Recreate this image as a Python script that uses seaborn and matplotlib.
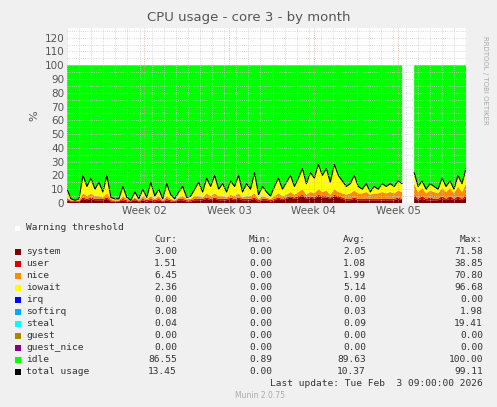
import numpy as np
import matplotlib.pyplot as plt
import seaborn as sns

nan = np.nan
# one sample every ~0.37 day over the month, gap near week 5
total = [10,3,2,3, 20,12,18,10,15, 8,20,4,3, 3,12,4,2,8,3,10,4,
         15,5,10,3,14,6,3,8,12,4,
         5,10,15,8,18,12,20,10,14,8,
         16,12,20,8,14,10,22,6,12,8,
         5,12,18,10,15,20,12,18,25,14,
         22,18,28,20,25,15,28,20,16,12,
         14,20,12,10,14,8,12,10,14,12,
         14,12,16,14, nan,nan,
         22,12,16,10,14,12,10,18,12,16,10,20,14,25]
system = [2,1,1,1, 3,2,3,2,2, 2,3,1,1, 1,2,1,1,2,1,2,1,
          2,1,2,1,2,1,1,2,2,1,
          1,2,2,2,3,2,3,2,2,2,
          3,2,3,2,2,2,3,1,2,2,
          1,2,3,2,3,4,3,4,5,3,
          4,3,5,4,4,3,5,4,3,2,
          2,3,2,2,2,2,2,2,2,2,
          2,2,3,2, nan,nan,
          4,2,3,2,2,2,2,3,2,3,2,3,2,4]
user = [1,0.5,0.5,0.5, 1,1,1,1,1, 1,1,1,0.5, 0.5,1,1,0.5,1,0.5,1,1,
        1,1,1,0.5,1,1,0.5,1,1,1,
        1,1,1,1,1,1,1,1,1,1,
        1,1,1,1,1,1,1,1,1,1,
        1,1,1,1,1,1,1,1,1,1,
        1,1,1,1,1,1,1,1,1,1,
        1,1,1,1,1,1,1,1,1,1,
        1,1,1,1, nan,nan,
        2,1,2,1,2,1,1,2,1,2,1,2,1,2]
nice = [1,0.5,0.5,0.5, 3,2,3,2,2, 1,3,1,0.5, 0.5,2,1,0.5,1,0.5,2,1,
        2,1,2,0.5,2,1,0.5,1,2,1,
        1,2,2,1,3,2,3,2,2,1,
        2,2,3,1,2,2,3,1,2,1,
        1,2,3,2,2,3,2,3,4,2,
        3,3,4,3,4,2,4,3,3,3,
        4,5,4,4,5,3,4,4,5,4,
        5,4,5,5, nan,nan,
        8,5,6,4,5,5,4,6,5,6,4,7,5,8]

week_ticks = [6.4, 13.4, 20.4, 27.4]
week_labels = ['Week 02', 'Week 03', 'Week 04', 'Week 05']

legend_rows = [
    ('system', '#7f0000', '3.00', '0.00', '2.05', '71.58'),
    ('user', '#e00000', '1.51', '0.00', '1.08', '38.85'),
    ('nice', '#ff8c00', '6.45', '0.00', '1.99', '70.80'),
    ('iowait', '#ffff00', '2.36', '0.00', '5.14', '96.68'),
    ('irq', '#0000ff', '0.00', '0.00', '0.00', '0.00'),
    ('softirq', '#00aaff', '0.08', '0.00', '0.03', '1.98'),
    ('steal', '#00ffff', '0.04', '0.00', '0.09', '19.41'),
    ('guest', '#aa8800', '0.00', '0.00', '0.00', '0.00'),
    ('guest_nice', '#880088', '0.00', '0.00', '0.00', '0.00'),
    ('idle', '#00ff00', '86.55', '0.89', '89.63', '100.00'),
    ('total usage', '#000000', '13.45', '0.00', '10.37', '99.11'),
]

total = np.array(total); system = np.array(system)
user = np.array(user); nice = np.array(nice)
iowait = np.clip(total - system - user - nice, 0, None)
idle = 100 - total
x = np.linspace(0, 33, len(total))

sns.set_style('white')
plt.rcParams['font.family'] = ['DejaVu Sans']
fig = plt.figure(figsize=(4.97, 4.07), dpi=100, facecolor='#f0f0f0')
ax = fig.add_axes([67/497, 1-203/407, (466-67)/497, (203-28)/407])
ax.set_facecolor('white')

layers = [system, user, nice, iowait, idle]
cols = ['#7f0000', '#e00000', '#ff8c00', '#ffff00', '#00ff00']
base = np.zeros(len(x))
for v, c in zip(layers, cols):
    ax.fill_between(x, base, base + v, color=c, lw=0)
    base = base + v
# plain plot so the line breaks at the gap
ax.plot(x, total, color='black', lw=0.8)

ax.set_xlim(0, 33)
ax.set_ylim(0, 127)
ax.set_yticks(range(0, 121, 10))
ax.set_xticks(week_ticks)
ax.set_xticklabels(week_labels)
ax.set_xticks(np.arange(0, 33, 1), minor=True)
ax.set_yticks(range(0, 126, 5), minor=True)
ax.grid(True, which='both', color='#cccccc', ls=':', lw=0.6)
ax.grid(True, which='major', axis='x', color='#e0a0a0', ls=':', lw=0.6)
ax.tick_params(labelsize=7.5, colors='#555555', length=0, pad=2)
for s in ax.spines.values():
    s.set_visible(False)
ax.set_axisbelow(False)
ax.set_ylabel('%', fontsize=8, color='#555555')

fig.text(0.5, 1-18/407, 'CPU usage - core 3 - by month', ha='center', va='center',
         fontsize=9.5, color='#555555')
fig.text(0.975, 1-80/407, 'RRDTOOL / TOBI OETIKER', rotation=270, ha='center', va='center',
         fontsize=5, color='#aaaaaa')

mono = 'DejaVu Sans Mono'
fs = 6.8
tc = '#333333'
def y(px):
    return 1 - px/407
fig.patches.append(plt.Rectangle((15/497, y(231)), 5/497, 5/407, transform=fig.transFigure,
                                 facecolor='white', edgecolor='none'))
fig.text(26/497, y(228), 'Warning threshold', family=mono, fontsize=fs, color=tc, va='center')
for xx, h in zip([177, 272, 366, 483], ['Cur:', 'Min:', 'Avg:', 'Max:']):
    fig.text(xx/497, y(240), h, family=mono, fontsize=fs, color=tc, ha='right', va='center')
for i, (name, c, cur, mn, avg, mx) in enumerate(legend_rows):
    py = 252 + i*12
    fig.patches.append(plt.Rectangle((15/497, y(py+3)), 6/497, 6/407, transform=fig.transFigure,
                                     facecolor=c, edgecolor='none'))
    fig.text(26/497, y(py), name, family=mono, fontsize=fs, color=tc, va='center')
    for xx, v in zip([177, 272, 366, 483], [cur, mn, avg, mx]):
        fig.text(xx/497, y(py), v, family=mono, fontsize=fs, color=tc, ha='right', va='center')
fig.text(483/497, y(384), 'Last update: Tue Feb  3 09:00:00 2026', family=mono, fontsize=fs,
         color=tc, ha='right', va='center')
fig.text(260/497, y(396), 'Munin 2.0.75', fontsize=5.5, color='#aaaaaa', ha='center', va='center')

fig.savefig('out.png', dpi=100, facecolor=fig.get_facecolor())
